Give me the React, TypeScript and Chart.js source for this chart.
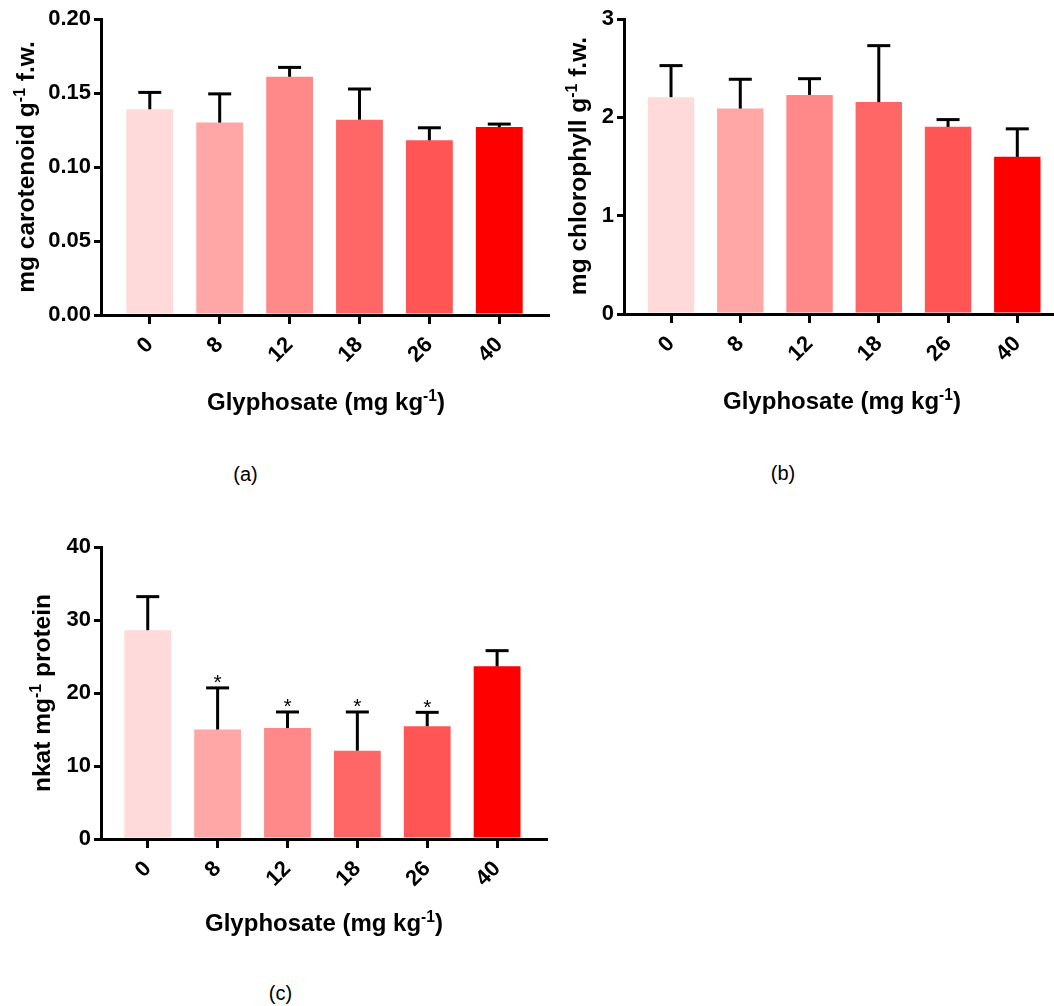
import React, { useEffect, useRef } from 'react';
import { Chart, registerables } from 'chart.js';

Chart.register(...registerables);

// ---------- data ----------
const doseLabels = ['0', '8', '12', '18', '26', '40'];
const barColors = ['#FFDADA', '#FFA6A6', '#FF8888', '#FF6666', '#FF5555', '#FF0000'];

const carotenoidMean = [0.139, 0.130, 0.161, 0.132, 0.118, 0.127];
const carotenoidSD = [0.0114, 0.0194, 0.0063, 0.0207, 0.0085, 0.002];
const carotenoidTicks = [0, 0.05, 0.1, 0.15, 0.2];

const chlorophyllMean = [2.205, 2.089, 2.228, 2.155, 1.903, 1.598];
const chlorophyllSD = [0.321, 0.298, 0.165, 0.574, 0.074, 0.285];
const chlorophyllTicks = [0, 1, 2, 3];

const nkatMean = [28.6, 15.0, 15.2, 12.1, 15.45, 23.65];
const nkatSD = [4.6, 5.7, 2.2, 5.3, 1.9, 2.15];
const nkatMarks = ['', '*', '*', '*', '*', ''];
const nkatTicks = [0, 10, 20, 30, 40];

const xTitleText = 'Glyphosate (mg kg';
const FONT = '"Liberation Sans", Arial, Helvetica, sans-serif';

// ---------- error bar plugin ----------
const errorBarPlugin = {
  id: 'errorBars',
  afterDatasetsDraw(chart: any, _args: any, opts: any) {
    const { ctx } = chart;
    const x = chart.scales.x;
    const y = chart.scales.y;
    const means: number[] = opts.means || [];
    const sds: number[] = opts.sds || [];
    const marks: string[] = opts.marks || [];
    ctx.save();
    ctx.strokeStyle = '#000';
    ctx.fillStyle = '#000';
    ctx.lineWidth = 3;
    ctx.lineCap = 'butt';
    means.forEach((m, i) => {
      const px = x.getPixelForValue(i);
      const y0 = y.getPixelForValue(m);
      const y1 = y.getPixelForValue(m + sds[i]);
      ctx.beginPath();
      ctx.moveTo(px, y0);
      ctx.lineTo(px, y1);
      ctx.stroke();
      ctx.beginPath();
      ctx.moveTo(px - 11.5, y1);
      ctx.lineTo(px + 11.5, y1);
      ctx.stroke();
      if (marks[i]) {
        ctx.font = `21px ${FONT}`;
        ctx.textAlign = 'center';
        ctx.textBaseline = 'alphabetic';
        ctx.fillText(marks[i], px, y1 + 1.5);
      }
    });
    ctx.restore();
  },
};

type PanelProps = {
  left: number;
  top: number;
  width: number;
  height: number;
  means: number[];
  sds: number[];
  marks?: string[];
  yTicks: number[];
  yDecimals: number;
  xMin: number;
  xMax: number;
  yAxisWidth: number;
  xAxisHeight: number;
  padTop: number;
  padRight: number;
};

function BarPanel(p: PanelProps) {
  const ref = useRef<HTMLCanvasElement | null>(null);
  useEffect(() => {
    if (!ref.current) return;
    const tickFont = { family: FONT, size: 22, weight: 'bold' as const };
    const chart = new Chart(ref.current, {
      type: 'bar',
      data: {
        datasets: [
          {
            data: p.means.map((v, i) => ({ x: i, y: v })),
            backgroundColor: barColors,
            borderWidth: 0,
            barPercentage: 0.67,
            categoryPercentage: 1,
          } as any,
        ],
      },
      options: {
        responsive: false,
        animation: false,
        devicePixelRatio: 1,
        layout: { padding: { top: p.padTop, right: p.padRight, left: 0, bottom: 0 } },
        plugins: {
          legend: { display: false },
          tooltip: { enabled: false },
          errorBars: { means: p.means, sds: p.sds, marks: p.marks || [] },
        } as any,
        scales: {
          x: {
            type: 'linear',
            min: p.xMin,
            max: p.xMax,
            offset: false,
            z: 1,
            grid: {
              display: true,
              drawOnChartArea: false,
              drawTicks: true,
              tickLength: 9,
              lineWidth: 3,
              color: '#000',
              offset: false,
            },
            border: { display: true, width: 3, color: '#000' },
            ticks: {
              stepSize: 1,
              includeBounds: false,
              autoSkip: false,
              minRotation: 45,
              maxRotation: 45,
              padding: 8,
              color: '#000',
              font: tickFont,
              callback: (v: any) => doseLabels[Number(v)] ?? '',
            },
            afterFit: (s: any) => {
              s.height = p.xAxisHeight;
            },
          } as any,
          y: {
            type: 'linear',
            min: p.yTicks[0],
            max: p.yTicks[p.yTicks.length - 1],
            z: 1,
            grid: {
              display: true,
              drawOnChartArea: false,
              drawTicks: true,
              tickLength: 7,
              lineWidth: 3,
              color: '#000',
            },
            border: { display: true, width: 3, color: '#000' },
            ticks: {
              padding: 3,
              color: '#000',
              font: tickFont,
              callback: (v: any) => Number(v).toFixed(p.yDecimals),
            },
            afterBuildTicks: (s: any) => {
              s.ticks = p.yTicks.map((v) => ({ value: v }));
            },
            afterFit: (s: any) => {
              s.width = p.yAxisWidth;
            },
          } as any,
        },
      },
      plugins: [errorBarPlugin],
    });
    return () => chart.destroy();
  }, []);
  return (
    <canvas
      ref={ref}
      width={p.width}
      height={p.height}
      style={{ position: 'absolute', left: p.left, top: p.top, width: p.width, height: p.height, display: 'block' }}
    />
  );
}

const supStyle: React.CSSProperties = {
  fontSize: '0.65em',
  lineHeight: 0,
  verticalAlign: 'baseline',
  position: 'relative',
  top: '-0.55em',
};

function XTitle({ cx, top }: { cx: number; top: number }) {
  return (
    <div
      style={{
        position: 'absolute',
        left: cx - 200,
        top,
        width: 400,
        textAlign: 'center',
        fontFamily: FONT,
        fontWeight: 'bold',
        fontSize: 24,
        lineHeight: '24px',
        whiteSpace: 'nowrap',
        color: '#000',
      }}
    >
      {xTitleText}
      <span style={supStyle}>-1</span>)
    </div>
  );
}

function YTitle({ cx, cy, before, after }: { cx: number; cy: number; before: string; after: string }) {
  return (
    <div
      style={{
        position: 'absolute',
        left: cx - 170,
        top: cy - 12,
        width: 340,
        height: 24,
        textAlign: 'center',
        fontFamily: FONT,
        fontWeight: 'bold',
        fontSize: 24.5,
        lineHeight: '24px',
        whiteSpace: 'nowrap',
        color: '#000',
        transform: 'rotate(-90deg)',
        transformOrigin: 'center center',
      }}
    >
      {before}
      <span style={supStyle}>-1</span>
      {after}
    </div>
  );
}

function PanelLabel({ cx, cy, text }: { cx: number; cy: number; text: string }) {
  return (
    <div
      style={{
        position: 'absolute',
        left: cx - 50,
        top: cy - 10,
        width: 100,
        textAlign: 'center',
        fontFamily: FONT,
        fontSize: 20,
        lineHeight: '20px',
        color: '#000',
      }}
    >
      {text}
    </div>
  );
}

export default function App() {
  return (
    <div style={{ position: 'absolute', left: 0, top: 0, width: 1054, height: 1006, background: '#fff', overflow: 'hidden' }}>
      <BarPanel
        left={0}
        top={0}
        width={560}
        height={390}
        means={carotenoidMean}
        sds={carotenoidSD}
        yTicks={carotenoidTicks}
        yDecimals={2}
        xMin={-0.698}
        xMax={5.697}
        yAxisWidth={101}
        xAxisHeight={75}
        padTop={19}
        padRight={12}
      />
      <BarPanel
        left={527}
        top={0}
        width={527}
        height={390}
        means={chlorophyllMean}
        sds={chlorophyllSD}
        yTicks={chlorophyllTicks}
        yDecimals={0}
        xMin={-0.679}
        xMax={5.53}
        yAxisWidth={97}
        xAxisHeight={76}
        padTop={19}
        padRight={0}
      />
      <BarPanel
        left={0}
        top={520}
        width={560}
        height={400}
        means={nkatMean}
        sds={nkatSD}
        marks={nkatMarks}
        yTicks={nkatTicks}
        yDecimals={0}
        xMin={-0.669}
        xMax={5.7}
        yAxisWidth={101}
        xAxisHeight={81}
        padTop={27}
        padRight={14}
      />
      <YTitle cx={25.5} cy={167} before="mg carotenoid g" after=" f.w." />
      <YTitle cx={578.4} cy={166} before="mg chlorophyll g" after=" f.w." />
      <YTitle cx={42.4} cy={693} before="nkat mg" after=" protein" />
      <XTitle cx={326} top={390} />
      <XTitle cx={842} top={389} />
      <XTitle cx={324} top={911} />
      <PanelLabel cx={245.5} cy={474} text="(a)" />
      <PanelLabel cx={783} cy={473} text="(b)" />
      <PanelLabel cx={280.5} cy={993} text="(c)" />
    </div>
  );
}
